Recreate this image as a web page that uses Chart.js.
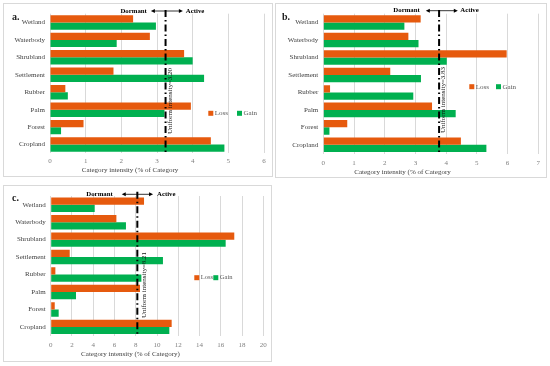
<!DOCTYPE html>
<html><head><meta charset="utf-8">
<script src="https://cdn.jsdelivr.net/npm/chart.js@4.4.1/dist/chart.umd.min.js"></script>
<style>
body{margin:0;width:550px;height:366px;background:#fff;position:relative;overflow:hidden}
.p{position:absolute;box-sizing:border-box;border:1px solid #d9d9d9}
canvas{position:absolute}
</style></head><body>
<div class="p" style="left:3px;top:3px;width:270px;height:174px"></div>
<div class="p" style="left:275px;top:3px;width:272px;height:175px"></div>
<div class="p" style="left:3px;top:185px;width:269px;height:177px"></div>
<canvas id="ca" width="270" height="174" style="left:3px;top:3px"></canvas>
<canvas id="cb" width="272" height="175" style="left:275px;top:3px"></canvas>
<canvas id="cc" width="269" height="177" style="left:3px;top:185px"></canvas>
<script>
// ---- data ----
const categories = ['Wetland','Waterbody','Shrubland','Settlement','Rubber','Palm','Forest','Cropland'];
const lossA = [2.33, 2.80, 3.76, 1.78, 0.43, 3.95, 0.94, 4.51];
const gainA = [2.97, 1.87, 4.00, 4.32, 0.50, 3.21, 0.31, 4.89];
const lossB = [3.17, 2.77, 5.97, 2.18, 0.22, 3.54, 0.78, 4.48];
const gainB = [2.64, 3.10, 4.02, 3.18, 2.93, 4.31, 0.20, 5.31];
const lossC = [8.78, 6.18, 17.27, 1.79, 0.44, 8.40, 0.38, 11.38];
const gainC = [4.14, 7.08, 16.46, 10.56, 8.53, 2.38, 0.75, 11.16];
const uniformValues = [3.24, 3.77, 8.15];
const uniformLabels = ['Uniform intensity=3.20', 'Uniform intensity=3.83', 'Uniform intensity=8.21'];
const xMaxes = [6, 7, 20];
const xSteps = [1, 1, 2];
const panelLetters = ['a.', 'b.', 'c.'];
const axisTitles = ['Category intensity (% of Category', 'Category intensity (% of Category', 'Category intensity (% of Category)'];
const seriesNames = ['Loss', 'Gain'];

const ORANGE = '#E65A0E', GREEN = '#00B050';
const SERIF = '"Liberation Serif", "DejaVu Serif", serif';

function tri(ctx, x, y, dir) {
  ctx.beginPath();
  ctx.moveTo(x, y);
  ctx.lineTo(x - dir * 4, y - 2);
  ctx.lineTo(x - dir * 4, y + 2);
  ctx.closePath();
  ctx.fill();
}

const deco = {
  id: 'deco',
  afterDraw(chart, args, o) {
    const ctx = chart.ctx, xs = chart.scales.x, ca = chart.chartArea;
    const lx = xs.getPixelForValue(o.uniform);
    ctx.save();
    // uniform line
    ctx.strokeStyle = '#000'; ctx.lineWidth = 2; ctx.setLineDash([7, 3, 1.5, 3]);
    ctx.beginPath(); ctx.moveTo(lx, o.lineTop); ctx.lineTo(lx, ca.bottom); ctx.stroke();
    ctx.setLineDash([]);
    // arrows
    ctx.lineWidth = 0.8; ctx.fillStyle = '#000';
    ctx.beginPath(); ctx.moveTo(lx - o.arrL + 3, o.annY); ctx.lineTo(lx + o.arrR - 3, o.annY); ctx.stroke();
    tri(ctx, lx - o.arrL, o.annY, -1);
    tri(ctx, lx + o.arrR, o.annY, 1);
    ctx.font = 'bold 6.8px ' + SERIF;
    ctx.textBaseline = 'middle';
    ctx.textAlign = 'right'; ctx.fillText('Dormant', lx - o.arrL - o.dGap, o.annY);
    ctx.textAlign = 'left'; ctx.fillText('Active', lx + o.arrR + o.aGap, o.annY);
    // rotated label
    ctx.save();
    ctx.translate(lx + o.labDx, o.labY); ctx.rotate(-Math.PI / 2);
    ctx.textAlign = 'center'; ctx.font = '7px ' + SERIF; ctx.fillStyle = '#111';
    ctx.fillText(o.label, 0, 0);
    ctx.restore();
    // panel letter
    ctx.font = 'bold 10px ' + SERIF; ctx.textAlign = 'left'; ctx.fillStyle = '#222';
    ctx.fillText(o.letter, o.letX, o.letY);
    // legend
    ctx.font = o.legFont + 'px ' + SERIF; ctx.fillStyle = '#595959';
    const cols = [ORANGE, GREEN];
    o.legX.forEach((x, i) => {
      ctx.fillStyle = cols[i]; ctx.fillRect(x, o.legY - 2.5, 5, 5);
      ctx.fillStyle = '#595959'; ctx.fillText(seriesNames[i], x + 6.5, o.legY);
    });
    // axis title
    ctx.font = '7px ' + SERIF; ctx.fillStyle = '#404040'; ctx.textAlign = 'center';
    ctx.fillText(o.title, o.titleX, o.titleY);
    ctx.restore();
  }
};

function makeChart(id, i, loss, gain, g) {
  const W = g.W, H = g.H;
  return new Chart(document.getElementById(id), {
    type: 'bar',
    data: {
      labels: categories,
      datasets: [
        {label: seriesNames[0], data: loss, backgroundColor: ORANGE},
        {label: seriesNames[1], data: gain, backgroundColor: GREEN}
      ]
    },
    options: {
      indexAxis: 'y', responsive: false, animation: false, devicePixelRatio: 1,
      layout: {padding: {left: 0, right: W - g.pr, top: g.pt, bottom: 0}},
      datasets: {bar: {categoryPercentage: 0.83, barPercentage: 1}},
      plugins: {
        legend: {display: false}, tooltip: {enabled: false},
        deco: Object.assign({uniform: uniformValues[i], label: uniformLabels[i], letter: panelLetters[i], title: axisTitles[i]}, g.deco)
      },
      scales: {
        x: {
          min: 0, max: xMaxes[i],
          ticks: {stepSize: xSteps[i], color: '#808080', font: {family: SERIF, size: 7}, padding: g.tp, maxRotation: 0},
          grid: {color: '#d9d9d9', drawTicks: false},
          border: {display: false},
          afterFit(s) { s.height = H - g.pb; }
        },
        y: {
          ticks: {color: '#404040', font: {family: SERIF, size: 7}, padding: 5},
          grid: {display: false, drawTicks: false},
          border: {display: false},
          afterFit(s) { s.width = g.pl; }
        }
      }
    },
    plugins: [deco]
  });
}

makeChart('ca', 0, lossA, gainA, {W: 270, H: 174, pl: 47, pr: 261, pt: 10.7, pb: 150.3, tp: 3.8,
  deco: {lineTop: 7, annY: 8, arrL: 14.7, arrR: 17.3, dGap: 4, aGap: 3, labDx: 4.5, labY: 98,
    letX: 9, letY: 14, legX: [205.3, 234], legY: 110.3, legFont: 7, titleX: 127, titleY: 167}});
makeChart('cb', 1, lossB, gainB, {W: 272, H: 175, pl: 48.3, pr: 263.3, pt: 10.7, pb: 150.6, tp: 5.5,
  deco: {lineTop: 7, annY: 7.7, arrL: 13.3, arrR: 18.7, dGap: 6, aGap: 2.5, labDx: 4, labY: 97,
    letX: 7, letY: 14, legX: [194.3, 221], legY: 83.7, legFont: 7, titleX: 127.5, titleY: 168.7}});
makeChart('cc', 2, lossC, gainC, {W: 269, H: 177, pl: 47.7, pr: 260.3, pt: 11, pb: 150.6, tp: 5,
  deco: {lineTop: 6.7, annY: 9.3, arrL: 15.6, arrR: 15.7, dGap: 9, aGap: 4, labDx: 6.5, labY: 100,
    letX: 9, letY: 13, legX: [191.3, 210.3], legY: 92.7, legFont: 6.5, titleX: 127.5, titleY: 168.7}});
</script>
</body></html>
